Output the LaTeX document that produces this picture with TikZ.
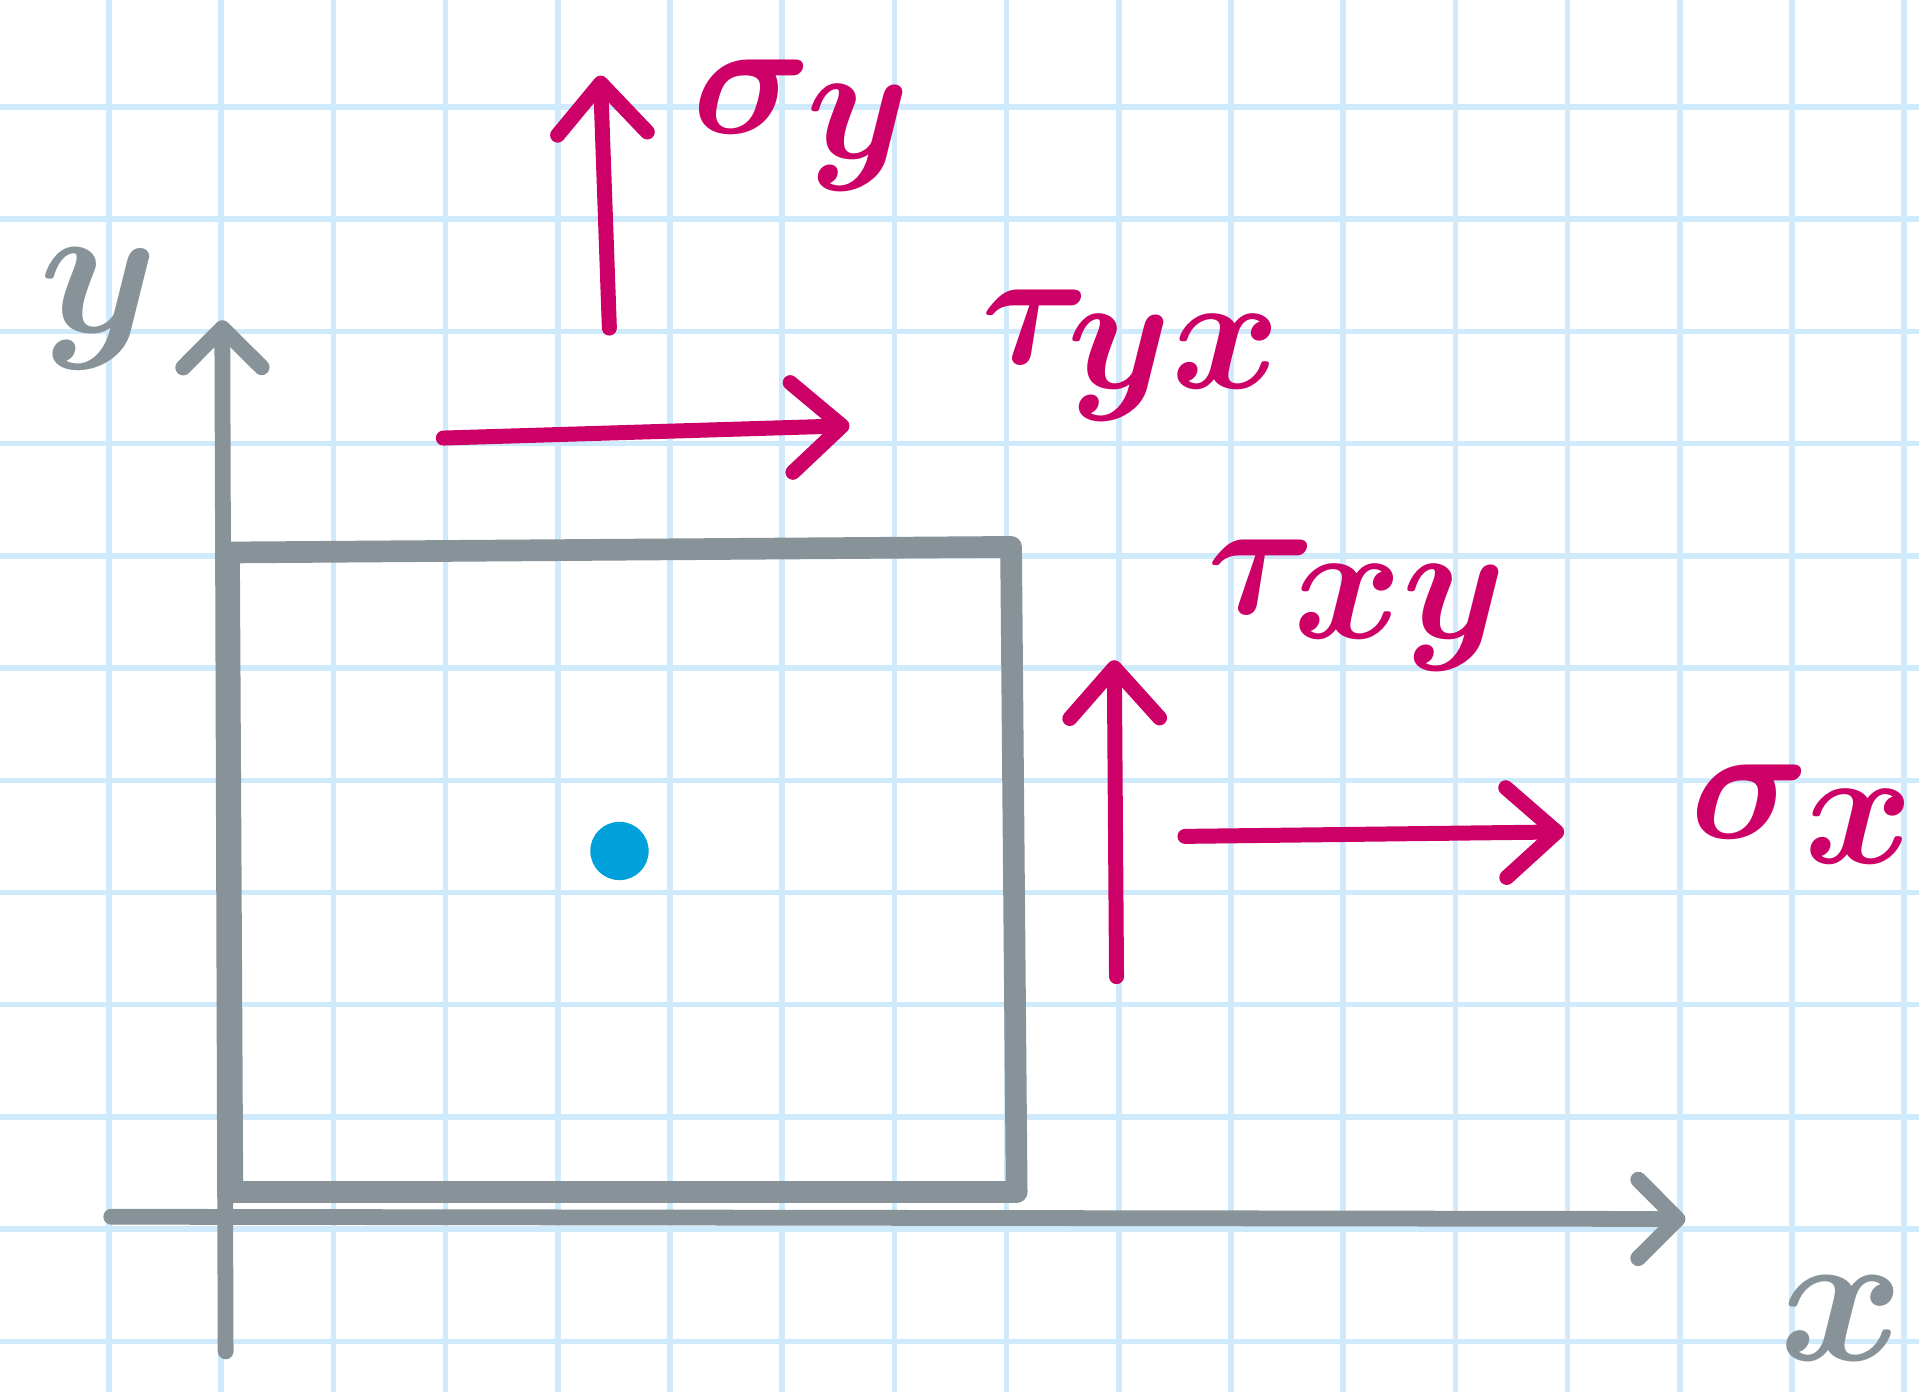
\RequirePackage{fix-cm}
\documentclass[tikz,border=0pt]{standalone}
\usepackage{amsmath}
\usepackage{tikz}
\usetikzlibrary{arrows.meta}
\definecolor{GridBlue}{RGB}{207, 234, 251}
\definecolor{AxisGray}{RGB}{135, 147, 153}
\definecolor{StressMagenta}{RGB}{204, 0, 102}
\definecolor{PointBlue}{RGB}{0, 160, 218}

\begin{document}
\begin{tikzpicture}[
    hand/.style={line cap=round, line join=round},
    stress/.style={hand, StressMagenta, line width=3.8pt, -{Straight Barb[length=4.5mm, width=8mm, round]}},
    axis/.style={hand, AxisGray, line width=4pt, -{Straight Barb[length=3.5mm, width=7mm, round]}},
    lbl/.style={inner sep=0pt, font=\fontsize{48}{54}\selectfont\boldmath},
    stresslbl/.style={inner sep=0pt, StressMagenta, font=\fontsize{42}{48}\selectfont\boldmath}
  ]
    % Squared paper
    \useasboundingbox (-0.971,-11.452) rectangle (16.132,0.954);
    \fill[white] (-0.971,-11.452) rectangle (16.132,0.954);
    \draw[GridBlue, line width=1.4pt] (-0.971,-11.452) grid (16.132,0.954);

    % Axes
    \coordinate (yfoot) at (1.04,-11.09);
    \coordinate (ytip) at (1.01,-1.90);
    \coordinate (xfoot) at (0.02,-9.89);
    \coordinate (xtip) at (14.05,-9.91);
    \draw[axis] (yfoot) -- (ytip);
    \draw[axis] (xfoot) -- (xtip);
    \node[AxisGray, lbl] (ylabel) at (-0.09,-1.80) {$y$};
    \node[AxisGray, lbl] (xlabel) at (15.44,-10.80) {$x$};

    % Element and its point
    \draw[AxisGray, hand, line width=5.5pt] (1.07,-3.97) -- (8.04,-3.92) -- (8.09,-9.67) -- (1.10,-9.67) -- cycle;
    \fill[PointBlue] (4.55,-6.63) circle (0.26);

    % Stresses on the top face
    \coordinate (sigmayfoot) at (4.46,-1.97);
    \coordinate (sigmaytip) at (4.38,0.28);
    \draw[stress] (sigmayfoot) -- (sigmaytip);
    \node[stresslbl] (sigmay) at (6.18,-0.16) {$\sigma_{\textstyle y}$};

    \coordinate (tauyxfoot) at (2.98,-2.95);
    \coordinate (tauyxtip) at (6.60,-2.84);
    \draw[stress] (tauyxfoot) -- (tauyxtip);
    \node[stresslbl] (tauyx) at (9.12,-2.21) {$\tau_{\textstyle yx}$};

    % Stresses on the right face
    \coordinate (tauxyfoot) at (8.98,-7.75);
    \coordinate (tauxytip) at (8.96,-4.93);
    \draw[stress] (tauxyfoot) -- (tauxytip);
    \node[stresslbl] (tauxy) at (11.13,-4.44) {$\tau_{\textstyle xy}$};

    \coordinate (sigmaxfoot) at (9.59,-6.50);
    \coordinate (sigmaxtip) at (12.97,-6.46);
    \draw[stress] (sigmaxfoot) -- (sigmaxtip);
    \node[stresslbl] (sigmax) at (15.10,-6.30) {$\sigma_{\textstyle x}$};
\end{tikzpicture}
\end{document}
